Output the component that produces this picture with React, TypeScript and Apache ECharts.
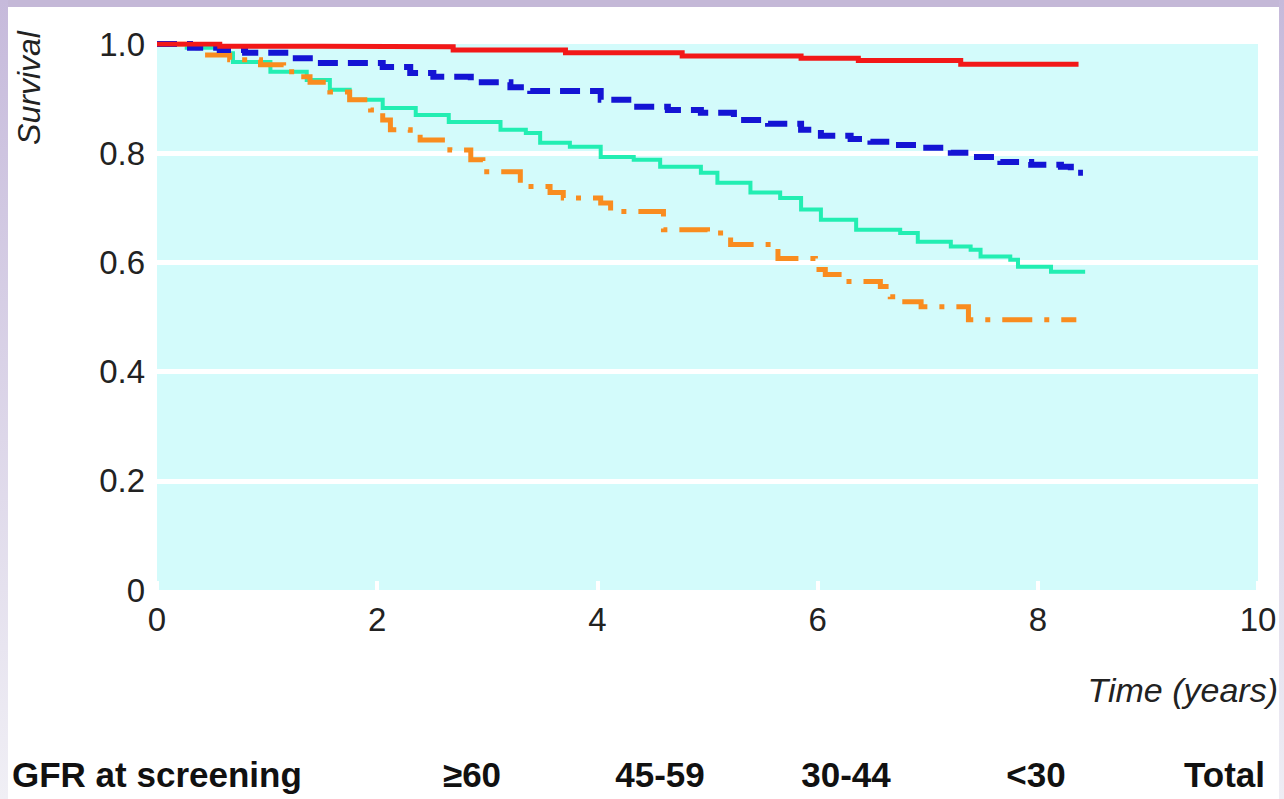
import React, { useEffect, useRef } from "react";
import * as echarts from "echarts";

const groupLabels = ["≥60", "45-59", "30-44", "<30"];
const totalLabel = "Total";
const rowTitle = "GFR at screening";
const yTitle = "Survival";
const xTitle = "Time (years)";

const redT = [0, 0.57, 1.5, 2.69, 3.71, 4.77, 5.85, 6.37, 7.3, 8.37];
const redS = [1.0, 0.996, 0.995, 0.989, 0.984, 0.978, 0.974, 0.97, 0.963, 0.963];

const blueT = [0, 0.3, 0.57, 0.8, 1.21, 1.45, 2.05, 2.3, 2.51, 2.85, 3.21, 3.39, 4.03, 4.33, 4.64, 4.94, 5.24, 5.55, 5.85, 6.03, 6.3, 6.48, 6.66, 6.94, 7.21, 7.39, 7.66, 7.94, 8.21, 8.3, 8.41];
const blueS = [1.0, 0.993, 0.989, 0.984, 0.974, 0.965, 0.958, 0.947, 0.94, 0.93, 0.921, 0.914, 0.898, 0.885, 0.879, 0.874, 0.861, 0.854, 0.843, 0.832, 0.826, 0.821, 0.815, 0.81, 0.801, 0.793, 0.784, 0.779, 0.775, 0.764, 0.764];

const tealT = [0, 0.27, 0.64, 0.69, 1.03, 1.36, 1.57, 1.75, 2.05, 2.35, 2.65, 3.12, 3.35, 3.48, 3.75, 4.03, 4.33, 4.57, 4.94, 5.09, 5.39, 5.66, 5.85, 6.03, 6.35, 6.75, 6.91, 7.21, 7.39, 7.48, 7.75, 7.82, 8.12, 8.43];
const tealS = [1.0, 0.993, 0.983, 0.967, 0.949, 0.934, 0.916, 0.898, 0.883, 0.87, 0.857, 0.843, 0.837, 0.819, 0.812, 0.793, 0.788, 0.775, 0.764, 0.746, 0.728, 0.718, 0.697, 0.678, 0.66, 0.654, 0.638, 0.629, 0.623, 0.611, 0.605, 0.592, 0.583, 0.583];

const orangeT = [0, 0.3, 0.39, 0.66, 0.94, 1.15, 1.3, 1.39, 1.57, 1.75, 1.94, 2.05, 2.12, 2.3, 2.39, 2.66, 2.85, 2.96, 3.3, 3.57, 3.69, 4.03, 4.12, 4.6, 5.0, 5.21, 5.64, 5.98, 6.07, 6.24, 6.57, 6.66, 6.75, 6.94, 7.37, 8.35];
const orangeS = [1.0, 0.993, 0.98, 0.971, 0.962, 0.949, 0.94, 0.93, 0.912, 0.898, 0.879, 0.861, 0.843, 0.834, 0.824, 0.806, 0.788, 0.766, 0.739, 0.728, 0.718, 0.709, 0.693, 0.66, 0.654, 0.633, 0.607, 0.587, 0.578, 0.565, 0.556, 0.537, 0.528, 0.519, 0.495, 0.495];

const xTicks = { min: 0, max: 10, interval: 2 };
const yTicks = { min: 0, max: 1, interval: 0.2 };

const zip = (t: number[], s: number[]) => t.map((v, i) => [v, s[i]]);

export default function App() {
  const ref = useRef<HTMLDivElement>(null);
  useEffect(() => {
    if (!ref.current) return;
    const chart = echarts.init(ref.current, null, { renderer: "svg" });
    const font = "Liberation Sans, Arial, Helvetica, sans-serif";
    const mk = (name: string, data: number[][], color: string, width: number, dash: any, z: number) => ({
      name,
      type: "line",
      step: "end",
      data,
      showSymbol: false,
      symbol: "none",
      z,
      lineStyle: { color, width, type: dash, cap: "butt", join: "miter" },
    });
    const legendX = [472, 660, 846, 1036];
    chart.setOption({
      animation: false,
      backgroundColor: "#ffffff",
      grid: {
        left: 157,
        right: 26,
        top: 44,
        bottom: 209,
        show: true,
        backgroundColor: "#d3fbfb",
        borderWidth: 0,
      },
      xAxis: {
        type: "value",
        min: xTicks.min,
        max: xTicks.max,
        interval: xTicks.interval,
        axisLine: { show: false },
        axisTick: { show: true, inside: true, length: 9, lineStyle: { color: "#ffffff", width: 4 } },
        splitLine: { show: false },
        axisLabel: { color: "#222", fontSize: 33, fontFamily: font, margin: 13 },
      },
      yAxis: {
        type: "value",
        min: yTicks.min,
        max: yTicks.max,
        interval: yTicks.interval,
        axisLine: { show: false },
        axisTick: { show: false },
        splitLine: { show: true, showMinLine: false, showMaxLine: false, lineStyle: { color: "#ffffff", width: 5 } },
        axisLabel: {
          color: "#222",
          fontSize: 33,
          fontFamily: font,
          margin: 12,
          formatter: (v: number) => (v === 0 ? "0" : v.toFixed(1)),
        },
      },
      series: [
        mk(groupLabels[2], zip(tealT, tealS), "#22eeb2", 4, "solid", 2),
        mk(groupLabels[3], zip(orangeT, orangeS), "#f98c1f", 5, [30, 12, 5, 12], 3),
        mk(groupLabels[1], zip(blueT, blueS), "#1414d4", 6, [20, 10], 4),
        mk(groupLabels[0], zip(redT, redS), "#f21818", 5, "solid", 5),
      ],
      graphic: [
        { type: "rect", shape: { x: 0, y: 0, width: 1284, height: 7 }, style: { fill: "#c4b8d7" }, silent: true },
        {
          type: "rect",
          shape: { x: 0, y: 0, width: 8, height: 799 },
          style: {
            fill: new echarts.graphic.LinearGradient(0, 0, 0, 1, [
              { offset: 0, color: "#c6badb" },
              { offset: 1, color: "#f0eff5" },
            ]),
          },
          silent: true,
        },
        {
          type: "rect",
          shape: { x: 1279, y: 0, width: 5, height: 799 },
          style: {
            fill: new echarts.graphic.LinearGradient(0, 0, 0, 1, [
              { offset: 0, color: "#c6badb" },
              { offset: 1, color: "#eeedf4" },
            ]),
          },
          silent: true,
        },
        {
          type: "text",
          x: 29,
          y: 88,
          rotation: Math.PI / 2,
          style: { text: yTitle, font: `italic 32px ${font}`, fill: "#222", align: "center", verticalAlign: "middle" },
        },
        {
          type: "text",
          x: 1278,
          y: 690,
          style: { text: xTitle, font: `italic 34px ${font}`, fill: "#222", align: "right", verticalAlign: "middle" },
        },
        {
          type: "text",
          x: 12,
          y: 774,
          style: { text: rowTitle, font: `bold 35px ${font}`, fill: "#111", align: "left", verticalAlign: "middle" },
        },
        ...groupLabels.map((g, i) => ({
          type: "text",
          x: legendX[i],
          y: 774,
          style: { text: g, font: `bold 35px ${font}`, fill: "#111", align: "center", verticalAlign: "middle" },
        })),
        {
          type: "text",
          x: 1265,
          y: 774,
          style: { text: totalLabel, font: `bold 35px ${font}`, fill: "#111", align: "right", verticalAlign: "middle" },
        },
      ],
    });
    return () => chart.dispose();
  }, []);
  return (
    <div style={{ position: "absolute", left: 0, top: 0, width: 1284, height: 799, background: "#fff" }}>
      <div ref={ref} style={{ width: 1284, height: 799 }} />
    </div>
  );
}
